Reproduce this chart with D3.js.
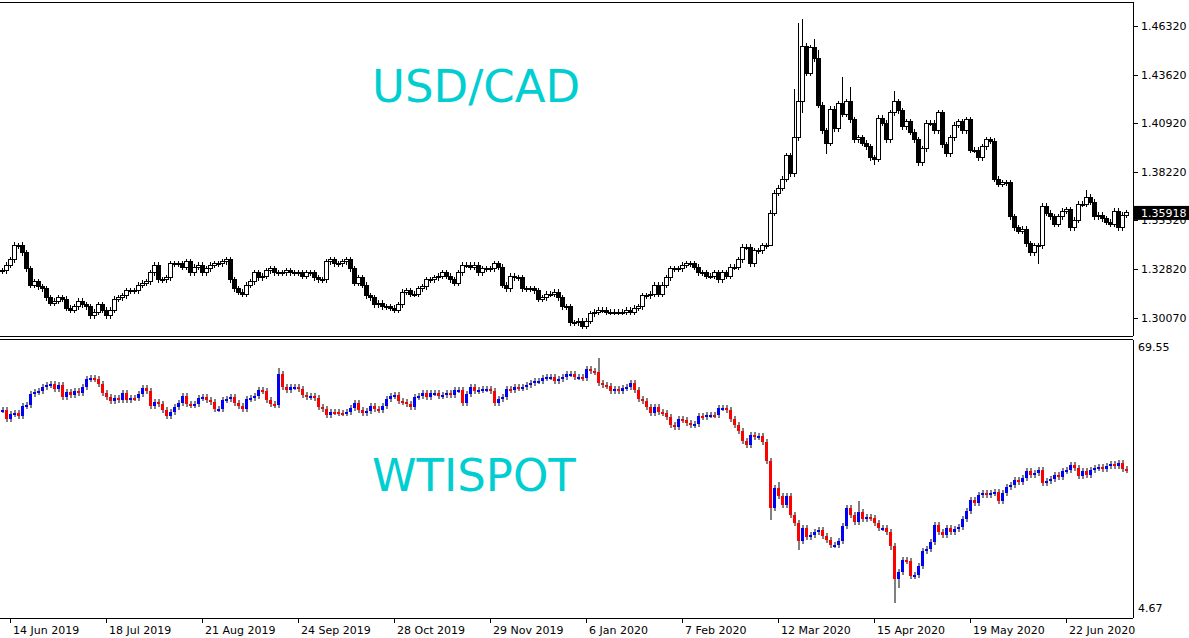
<!DOCTYPE html>
<html>
<head>
<meta charset="utf-8">
<script src="https://cdn.jsdelivr.net/npm/d3@7"></script>
<style>
  body { margin: 0; background: #fff; }
  text { font-family: "DejaVu Sans", Tahoma, sans-serif; }
</style>
</head>
<body>
<script>
// USD/CAD daily closes (bars 0..281)
const cadClose = [
  1.327,1.330,1.333,1.341,1.341,1.337,1.328,1.319,1.321,1.318,1.317,1.312,1.309,1.310,1.312,1.311,1.306,1.305,1.307,1.310,
  1.308,1.307,1.302,1.304,1.308,1.305,1.302,1.305,1.311,1.312,1.313,1.316,1.316,1.316,1.319,1.320,1.321,1.326,1.330,1.322,
  1.322,1.323,1.331,1.331,1.331,1.329,1.332,1.326,1.329,1.330,1.326,1.328,1.330,1.331,1.331,1.332,1.333,1.322,1.317,1.315,
  1.314,1.319,1.321,1.326,1.323,1.324,1.327,1.328,1.326,1.326,1.326,1.327,1.326,1.326,1.326,
  1.324,1.326,1.326,1.323,1.322,1.322,1.332,1.333,1.331,1.331,1.332,1.333,1.328,1.320,1.323,1.319,1.313,1.312,1.308,1.309,
  1.307,1.307,1.306,1.305,1.308,1.315,1.316,1.314,1.314,1.317,1.318,1.322,1.322,1.323,1.324,1.326,1.324,1.322,1.320,1.326,
  1.330,1.330,1.329,1.330,1.326,1.328,1.328,1.328,1.331,1.329,1.319,1.317,1.324,1.323,1.323,1.317,1.317,1.317,1.316,1.311,
  1.312,1.314,1.314,1.315,1.312,1.307,1.307,1.298,1.298,1.299,1.296,1.299,1.303,1.304,1.305,
  1.305,1.304,1.304,1.304,1.304,1.304,1.305,1.304,1.306,1.307,1.313,1.313,1.314,1.319,1.314,1.319,1.323,1.328,1.328,1.328,
  1.330,1.331,1.331,1.329,1.326,1.326,1.324,1.324,1.326,1.322,1.326,1.324,1.329,1.329,1.333,1.340,1.340,1.331,1.338,1.338,
  1.341,1.341,
  1.359,1.370,1.373,1.378,1.391,1.381,1.401,1.421,1.452,1.437,1.451,1.445,1.419,1.405,1.398,1.417,1.406,1.420,1.414,1.421,
  1.411,1.400,1.401,1.398,1.396,1.390,1.389,1.412,1.409,1.400,1.415,1.421,1.416,
  1.407,1.410,1.404,1.400,1.387,1.395,1.409,1.409,1.405,1.415,1.397,1.392,1.401,1.408,1.410,1.405,1.411,1.394,1.394,1.390,
  1.396,1.400,1.399,1.378,1.375,1.376,1.376,1.357,1.351,1.349,1.350,1.342,1.337,1.341,1.341,1.363,1.359,1.357,1.353,1.357,
  1.360,1.361,1.351,1.355,1.364,1.364,1.368,1.365,1.357,1.358,1.356,1.354,1.353,1.360,1.351,1.358,1.35918
];
// notable USD/CAD wick extremes [bar, price]
const cadHighs = [[3,1.343],[5,1.343],[198,1.428],[199,1.465],[200,1.467],[203,1.456],[204,1.450],[210,1.435],[212,1.429],[223,1.427],[271,1.372]];
const cadLows = [[192,1.351],[200,1.415],[206,1.392],[218,1.386],[259,1.331]];
const cadTicks = [1.46320, 1.43620, 1.40920, 1.38220, 1.35520, 1.32820, 1.30070];

// WTI spot daily closes (bars 0..281)
const wtiClose = [
  53.88,51.56,52.89,53.22,52.39,54.87,55.12,57.86,58.44,58.69,59.68,60.01,60.34,59.02,60.18,57.03,58.36,57.61,58.69,58.19,
  59.52,61.50,61.75,61.59,60.26,58.19,57.20,56.20,56.78,56.37,58.19,56.37,56.95,56.78,57.86,59.27,58.60,54.96,55.87,55.37,
  53.88,52.47,53.47,54.71,55.54,57.45,55.37,55.12,55.37,56.95,57.03,56.37,55.95,54.05,54.21,56.37,56.62,57.20,55.54,54.96,
  54.13,56.62,56.78,57.45,58.85,58.52,56.37,55.37,55.12,62.83,59.52,58.85,59.68,59.68,59.02,
  57.61,57.20,57.45,56.78,54.71,54.05,52.64,53.47,53.38,53.22,53.05,53.47,54.46,55.62,53.88,53.22,53.71,54.96,54.13,53.88,
  54.96,56.62,57.36,57.53,56.20,55.95,55.37,54.71,57.03,57.45,58.19,57.03,58.02,58.19,57.45,57.53,58.19,57.69,58.85,58.85,
  55.70,57.86,59.52,58.69,58.85,59.02,59.18,58.52,55.70,56.54,57.20,59.10,58.94,59.68,59.43,59.68,60.01,60.68,61.01,61.17,
  61.84,62.00,62.17,61.17,61.50,62.17,62.83,62.83,62.00,62.00,61.84,63.99,63.66,63.41,60.51,
  60.10,59.85,58.69,59.03,58.61,59.36,59.52,60.52,58.86,56.70,56.13,54.72,53.22,54.55,53.47,53.22,52.06,50.24,49.74,51.57,
  51.40,50.74,50.08,50.41,52.40,52.06,52.73,52.73,52.64,54.30,54.30,53.89,51.65,50.24,48.75,46.26,45.27,47.67,47.26,47.34,
  46.02,41.29,29.44,34.41,32.51,30.27,32.51,27.78,25.88,21.40,24.47,22.40,22.81,23.64,24.05,22.56,21.57,20.33,20.33,21.40,
  25.05,29.44,27.87,26.13,28.61,26.71,27.37,26.96,25.71,24.47,24.47,23.64,20.08,11.87,13.53,
  16.60,16.43,12.62,12.95,15.11,18.84,19.33,21.16,25.30,23.64,22.81,24.47,23.48,24.30,24.72,26.71,28.86,31.51,30.68,32.76,
  33.17,32.76,33.34,33.50,31.27,33.17,34.83,35.24,36.49,36.07,37.07,38.72,37.81,38.14,38.97,35.66,36.16,36.73,37.73,37.31,
  38.72,38.97,40.22,39.55,37.56,38.72,37.65,39.05,39.39,39.80,39.30,39.97,40.46,40.05,40.80,39.30,38.97
];
const wtiHighs = [[69,64.3],[149,66.8],[194,36.1],[214,31.3]];
const wtiLows = [[192,26.5],[199,19.1],[222,19.0],[223,6.0],[224,9.7]];
const wtiTicks = [69.55, 4.67];

const dateIdx = [2, 26, 50, 74, 98, 122, 146, 170, 194, 218, 242, 266];
const dateLabels = ["14 Jun 2019","18 Jul 2019","21 Aug 2019","24 Sep 2019","28 Oct 2019","29 Nov 2019",
                    "6 Jan 2020","7 Feb 2020","12 Mar 2020","15 Apr 2020","19 May 2020","22 Jun 2020"];

const W = 1189, H = 638, right = 1133;
const svg = d3.select("body").append("svg").attr("width", W).attr("height", H);

const x = d3.scaleLinear().domain([0, cadClose.length - 1]).range([2, 1126]);
const yCad = d3.scaleLinear().domain([1.30070, 1.46320]).range([318, 26]);
const yWti = d3.scaleLinear().domain([4.67, 69.55]).range([608, 347]);

function bars(close, highs, lows) {
  const hi = new Map(highs), lo = new Map(lows);
  return close.map((c, i) => {
    const o = i ? close[i - 1] : c;
    return { i, o, c, h: hi.get(i), l: lo.get(i) };
  });
}

// frame
const frame = svg.append("g").attr("stroke", "#000").attr("shape-rendering", "crispEdges");
frame.append("line").attr("x1", 0).attr("x2", right).attr("y1", 2.5).attr("y2", 2.5);
frame.append("line").attr("x1", 0).attr("x2", right).attr("y1", 336.5).attr("y2", 336.5);
frame.append("line").attr("x1", 0).attr("x2", right).attr("y1", 339.5).attr("y2", 339.5);
frame.append("line").attr("x1", 0).attr("x2", right).attr("y1", 618.5).attr("y2", 618.5);
frame.append("line").attr("x1", right + 0.5).attr("x2", right + 0.5).attr("y1", 2).attr("y2", 336);
frame.append("line").attr("x1", right + 0.5).attr("x2", right + 0.5).attr("y1", 340).attr("y2", 618);

// titles
svg.append("text").attr("x", 372).attr("y", 102).attr("font-size", 45)
   .attr("font-family", "Liberation Sans, Arial, sans-serif").attr("fill", "#00CED1").text("USD/CAD");
svg.append("text").attr("x", 372).attr("y", 491).attr("font-size", 45)
   .attr("font-family", "Liberation Sans, Arial, sans-serif").attr("fill", "#00CED1").text("WTISPOT");

// USD/CAD candles
const cad = svg.append("g").attr("shape-rendering", "crispEdges");
const cadData = bars(cadClose, cadHighs, cadLows);
cad.selectAll("line").data(cadData).enter().append("line")
   .attr("x1", d => Math.round(x(d.i)) + 0.5).attr("x2", d => Math.round(x(d.i)) + 0.5)
   .attr("y1", d => d.h ? yCad(d.h) : Math.min(yCad(d.o), yCad(d.c)) - 3)
   .attr("y2", d => d.l ? yCad(d.l) : Math.max(yCad(d.o), yCad(d.c)) + 3)
   .attr("stroke", "#000");
cad.selectAll("rect").data(cadData).enter().append("rect")
   .attr("x", d => Math.round(x(d.i)) - 1.5)
   .attr("width", 4)
   .attr("y", d => Math.min(yCad(d.o), yCad(d.c)))
   .attr("height", d => Math.max(1, Math.abs(yCad(d.o) - yCad(d.c))))
   .attr("fill", d => d.c >= d.o ? "#fff" : "#000")
   .attr("stroke", "#000");

// WTI candles
const wti = svg.append("g").attr("shape-rendering", "crispEdges");
const wtiData = bars(wtiClose, wtiHighs, wtiLows);
wti.selectAll("line").data(wtiData).enter().append("line")
   .attr("x1", d => Math.round(x(d.i)) + 1).attr("x2", d => Math.round(x(d.i)) + 1)
   .attr("y1", d => d.h ? yWti(d.h) : Math.min(yWti(d.o), yWti(d.c)) - 3)
   .attr("y2", d => d.l ? yWti(d.l) : Math.max(yWti(d.o), yWti(d.c)) + 3)
   .attr("stroke", "#808080").attr("stroke-width", 2);
wti.selectAll("rect").data(wtiData).enter().append("rect")
   .attr("x", d => Math.round(x(d.i)) - 1)
   .attr("width", 3)
   .attr("y", d => Math.min(yWti(d.o), yWti(d.c)))
   .attr("height", d => Math.max(2, Math.abs(yWti(d.o) - yWti(d.c))))
   .attr("fill", d => d.c >= d.o ? "#0000ff" : "#ff0000");

// right axis, USD/CAD
const ax = svg.append("g").attr("font-size", 11);
ax.selectAll(".tc").data(cadTicks).enter().append("line")
  .attr("x1", right).attr("x2", right + 5)
  .attr("y1", d => Math.round(yCad(d)) + 0.5).attr("y2", d => Math.round(yCad(d)) + 0.5)
  .attr("stroke", "#000");
ax.selectAll(".lc").data(cadTicks).enter().append("text")
  .attr("x", 1141).attr("y", d => yCad(d) + 4)
  .text(d => d.toFixed(5));

// last price box
const last = cadClose[cadClose.length - 1];
ax.append("rect").attr("x", right + 1).attr("y", yCad(last) - 7).attr("width", 55).attr("height", 14).attr("fill", "#000");
ax.append("text").attr("x", 1141).attr("y", yCad(last) + 4).attr("fill", "#fff").text(last.toFixed(5));

// right axis, WTI (panel range labels)
ax.selectAll(".lw").data(wtiTicks).enter().append("text")
  .attr("x", 1138).attr("y", d => yWti(d) + 4)
  .text(d => d.toFixed(2));

// bottom time axis
const bx = svg.append("g").attr("font-size", 11);
bx.selectAll("line").data(dateIdx).enter().append("line")
  .attr("x1", d => Math.round(x(d)) + 0.5).attr("x2", d => Math.round(x(d)) + 0.5)
  .attr("y1", 618).attr("y2", 623).attr("stroke", "#000");
bx.selectAll("text").data(dateIdx).enter().append("text")
  .attr("x", d => x(d) + 3).attr("y", 634)
  .text((d, i) => dateLabels[i]);
</script>
</body>
</html>
